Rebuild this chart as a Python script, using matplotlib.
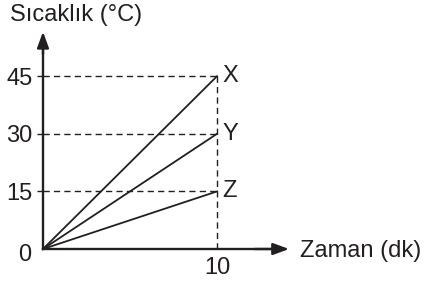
import matplotlib
matplotlib.use("Agg")
import matplotlib.pyplot as plt

# Donnees
temps_final = 10
series = ["X", "Y", "Z"]
temperatures = [45, 30, 15]
yticks = [15, 30, 45]
xticks = [10]

INK = "#231f20"
FS = 17
plt.rcParams["font.family"] = ["Liberation Sans", "DejaVu Sans"]

fig = plt.figure(figsize=(4.25, 2.82), dpi=100)
ax = fig.add_axes([0, 0, 1, 1])
ax.set_xlim(-2.47, 21.95)
ax.set_ylim(-8.59, 64.84)

# Axes avec fleches
for s in ["top", "right"]:
    ax.spines[s].set_visible(False)
ax.spines["left"].set_position(("data", 0))
ax.spines["bottom"].set_position(("data", 0))
ax.spines["left"].set_bounds(0, 55)
ax.spines["bottom"].set_bounds(0, 13.5)
for s in ["left", "bottom"]:
    ax.spines[s].set_linewidth(1.7)
    ax.spines[s].set_color(INK)
ax.annotate("", xy=(14.3, 0), xytext=(12, 0),
            arrowprops=dict(arrowstyle="-|>,head_length=0.6,head_width=0.22",
                            lw=1.7, color=INK, mutation_scale=16))
ax.annotate("", xy=(0, 57.3), xytext=(0, 50),
            arrowprops=dict(arrowstyle="-|>,head_length=0.6,head_width=0.22",
                            lw=1.7, color=INK, mutation_scale=16))

# Graduations
ax.set_yticks(yticks)
ax.set_yticklabels([str(v) for v in yticks])
ax.set_xticks(xticks)
ax.set_xticklabels([str(v) for v in xticks])
ax.tick_params(axis="y", direction="out", length=4.5, width=1, color=INK,
               labelsize=FS, labelcolor=INK, pad=3)
ax.tick_params(axis="x", length=0, labelsize=FS, labelcolor=INK, pad=6)
ax.text(-1.03, -1.6, "0", fontsize=FS, color=INK, ha="center", va="center")

# Lignes pointillees et droites
for nom, t in zip(series, temperatures):
    ax.plot([0, temps_final], [t, t], color=INK, lw=1, dashes=(4.5, 3))
    ax.plot([0, temps_final], [0, t], color=INK, lw=1.3)
    ax.text(temps_final + 0.3, t, nom, fontsize=FS, color=INK, ha="left", va="center")
ax.plot([temps_final, temps_final], [0, max(temperatures)], color=INK, lw=1, dashes=(4.5, 3))

# Titres des axes
ax.text(-1.9, 59.4, "Sıcaklık (°C)", fontsize=FS, color=INK, ha="left", va="baseline")
ax.text(14.77, -2.08, "Zaman (dk)", fontsize=FS, color=INK, ha="left", va="baseline")

fig.savefig("out.png", dpi=100)
